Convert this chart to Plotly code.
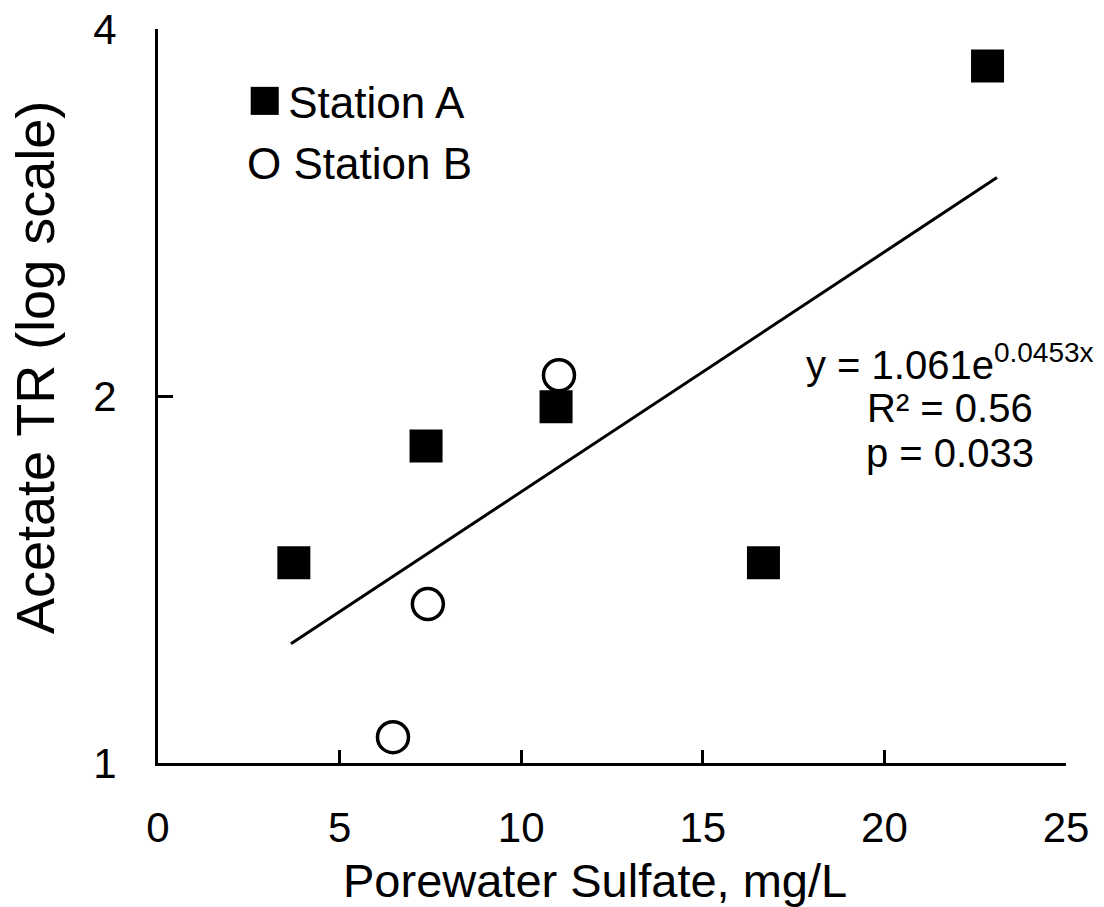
import numpy as np
import plotly.graph_objects as go

# Porewater sulfate (mg/L) and acetate turnover rate for each station
station_a_sulfate = [3.74, 7.38, 10.96, 16.67, 22.84]
station_a_acetate = [1.46, 1.82, 1.96, 1.46, 3.73]

station_b_sulfate = [6.47, 7.43, 11.04]
station_b_acetate = [1.05, 1.35, 2.08]

# Exponential fit reported on the chart: y = a * exp(b * x)
fit_a = 1.061
fit_b = 0.0453
fit_x_range = [3.66, 23.1]
fit_label = "y = 1.061e<sup>0.0453x</sup>"
r2_label = "R² = 0.56"
p_label = "p = 0.033"

y_ticks = [1, 2, 4]
x_ticks = [0, 5, 10, 15, 20, 25]

FONT = "Liberation Sans, Arial, sans-serif"

fit_x = np.linspace(fit_x_range[0], fit_x_range[1], 60)
fit_y = fit_a * np.exp(fit_b * fit_x)

fig = go.Figure()

fig.add_trace(go.Scatter(
    x=fit_x, y=fit_y, mode="lines",
    line=dict(color="black", width=3),
    showlegend=False, hoverinfo="skip",
))

fig.add_trace(go.Scatter(
    x=station_a_sulfate, y=station_a_acetate, mode="markers",
    name="Station A",
    marker=dict(symbol="square", size=33, color="black", line=dict(width=0)),
    showlegend=False,
))

fig.add_trace(go.Scatter(
    x=station_b_sulfate, y=station_b_acetate, mode="markers",
    name="Station B",
    marker=dict(symbol="circle", size=31, color="white",
                line=dict(color="black", width=3.5)),
    showlegend=False,
))

# Legend drawn as a text box inside the plot
fig.add_annotation(text="<span style='font-size:58px'>■</span>"
                        "<span style='font-size:22px'> </span>Station A",
                   xref="paper", yref="paper",
                   x=0.0955, y=0.907, xanchor="left", yanchor="middle",
                   showarrow=False, font=dict(family=FONT, size=44, color="black"))
fig.add_annotation(text="O Station B",
                   xref="paper", yref="paper",
                   x=0.0955, y=0.817, xanchor="left", yanchor="middle",
                   showarrow=False, font=dict(family=FONT, size=44, color="black"))

# Fit statistics
for label, ypos in [(fit_label, 0.547), (r2_label, 0.484), (p_label, 0.423)]:
    fig.add_annotation(text=label, xref="paper", yref="paper",
                       x=0.872, y=ypos, xanchor="center", yanchor="middle",
                       showarrow=False, font=dict(family=FONT, size=40, color="black"))

# Axis titles
fig.add_annotation(text="Porewater Sulfate, mg/L", xref="paper", yref="paper",
                   x=(595 - 158) / 908, y=-(880 - 763) / 734,
                   xanchor="center", yanchor="middle", showarrow=False,
                   font=dict(family=FONT, size=47, color="black"))
fig.add_annotation(text="Acetate TR (log scale)", xref="paper", yref="paper",
                   x=-(158 - 35) / 908, y=(763 - 368) / 734, textangle=-90,
                   xanchor="center", yanchor="middle", showarrow=False,
                   font=dict(family=FONT, size=54, color="black"))

fig.update_xaxes(
    range=[0, 25], tickvals=x_ticks,
    showline=True, linecolor="black", linewidth=3,
    ticks="inside", ticklen=13, tickwidth=2.5, tickcolor="black",
    ticklabelstandoff=26,
    showgrid=False, zeroline=False, automargin=False,
    tickfont=dict(family=FONT, size=42, color="black"),
)

fig.update_yaxes(
    type="log", range=[0, np.log10(4)], tickvals=y_ticks,
    ticktext=[str(v) for v in y_ticks],
    showline=True, linecolor="black", linewidth=3,
    ticks="inside", ticklen=15, tickwidth=2.5, tickcolor="black",
    ticklabelstandoff=30,
    showgrid=False, zeroline=False, automargin=False,
    tickfont=dict(family=FONT, size=42, color="black"),
)

fig.update_layout(
    width=1104, height=907,
    margin=dict(l=158, r=38, t=29, b=144),
    paper_bgcolor="white", plot_bgcolor="white",
    font=dict(family=FONT, color="black"),
)

fig.write_html("out.html")
